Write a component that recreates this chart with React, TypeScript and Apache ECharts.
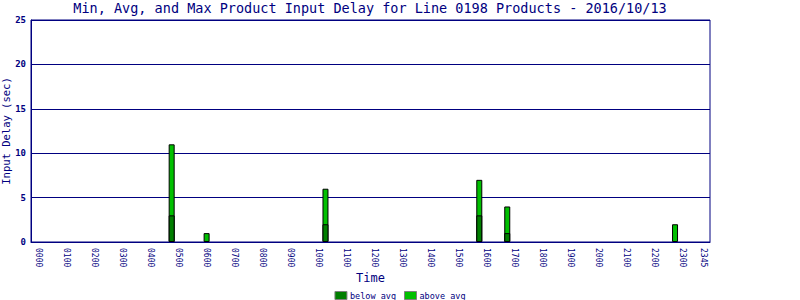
import React, { useEffect, useRef } from "react";
import * as echarts from "echarts";

// Bar times (hours, decimal) and stacked values
const times = [4.75, 6.0, 10.25, 15.75, 16.75, 22.75];
const belowAvg = [3, 0, 2, 3, 1, 0];
const aboveAvg = [8, 1, 4, 4, 3, 2];
const xTickValues = [0, 1, 2, 3, 4, 5, 6, 7, 8, 9, 10, 11, 12, 13, 14, 15, 16, 17, 18, 19, 20, 21, 22, 23, 23.75];
const yTicks = [0, 5, 10, 15, 20, 25];

const NAVY = "#000080";
const MONO = "'DejaVu Sans Mono', monospace";

function fmtTime(v: number): string {
  const h = Math.floor(v + 1e-6);
  const m = Math.round((v - h) * 60);
  return String(h).padStart(2, "0") + String(m).padStart(2, "0");
}

export default function App() {
  const ref = useRef<HTMLDivElement>(null);
  useEffect(() => {
    if (!ref.current) return;
    const chart = echarts.init(ref.current, null, { renderer: "svg" });
    const below = belowAvg.map((v, i) => [times[i], v === 0 ? null : v]);
    const total = aboveAvg.map((v, i) => [times[i], v + belowAvg[i]]);
    chart.setOption({
      animation: false,
      backgroundColor: "#ffffff",
      title: {
        text: "Min, Avg, and Max Product Input Delay for Line 0198 Products - 2016/10/13",
        left: 370,
        textAlign: "center",
        top: 1,
        padding: 0,
        textStyle: { color: NAVY, fontFamily: MONO, fontSize: 13.5, fontWeight: "normal" },
      },
      legend: {
        top: 291,
        left: "center",
        padding: 0,
        itemWidth: 12,
        itemHeight: 8,
        itemGap: 8,
        icon: "rect",
        itemStyle: { borderColor: "#808080", borderWidth: 1 },
        textStyle: { color: NAVY, fontFamily: MONO, fontSize: 8.5, padding: [0, 0, 0, -2] },
        data: ["below avg", "above avg"],
      },
      grid: {
        left: 31,
        right: 90,
        top: 20,
        bottom: 58,
        outerBoundsMode: "none",
        containLabel: false,
        show: true,
        borderColor: NAVY,
        borderWidth: 1,
        backgroundColor: "#ffffff",
      },
      xAxis: {
        type: "value",
        min: -0.28,
        max: 24,
        name: "Time",
        nameLocation: "middle",
        nameGap: 30,
        nameMoveOverlap: false,
        nameTextStyle: { color: NAVY, fontFamily: MONO, fontSize: 12 },
        axisLine: { show: true, onZero: false, lineStyle: { color: NAVY, width: 1 } },
        axisTick: { show: false },
        splitLine: { show: false },
        axisLabel: {
          customValues: xTickValues,
          formatter: (v: number) => fmtTime(v),
          rotate: -90,
          color: NAVY,
          fontFamily: MONO,
          fontSize: 8,
          margin: 6,
        },
      },
      yAxis: {
        type: "value",
        min: 0,
        max: 25,
        interval: 5,
        name: "Input Delay (sec)",
        nameLocation: "middle",
        nameGap: 20,
        nameMoveOverlap: false,
        nameTextStyle: { color: NAVY, fontFamily: MONO, fontSize: 10.5 },
        axisLine: { show: true, onZero: false, lineStyle: { color: NAVY, width: 1 } },
        axisTick: { show: false },
        splitLine: { show: true, lineStyle: { color: NAVY, width: 1 } },
        axisLabel: {
          customValues: yTicks,
          color: NAVY,
          fontFamily: MONO,
          fontSize: 9,
          fontWeight: "bold",
          margin: 5,
        },
      },
      series: [
        {
          name: "above avg",
          type: "bar",
          barWidth: 6,
          barGap: "-100%",
          data: total,
          itemStyle: { color: "#00c000", borderColor: "#000000", borderWidth: 1 },
        },
        {
          name: "below avg",
          type: "bar",
          barWidth: 6,
          barGap: "-100%",
          data: below,
          itemStyle: { color: "#007f00", borderColor: "#000000", borderWidth: 1 },
        },
      ],
    });
    return () => chart.dispose();
  }, []);
  return (
    <div style={{ position: "fixed", left: 0, top: 0, width: 800, height: 300 }}>
      <div ref={ref} style={{ width: 800, height: 300 }} />
    </div>
  );
}
